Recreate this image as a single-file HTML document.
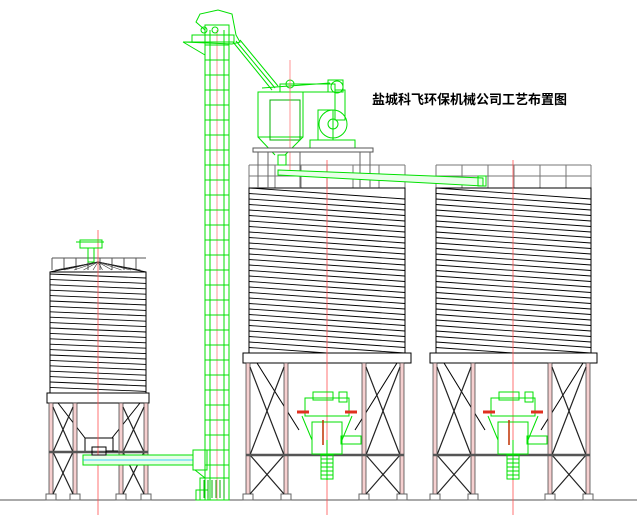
<!DOCTYPE html>
<html><head><meta charset="utf-8"><style>
html,body{margin:0;padding:0;background:#fff;width:637px;height:524px;overflow:hidden}
svg{position:absolute;left:0;top:0}
.t{position:absolute;left:372px;top:89px;font:bold 13px "Noto Sans CJK SC","WenQuanYi Zen Hei",sans-serif;letter-spacing:0px;color:#000;white-space:nowrap}
</style></head><body>
<svg id="s" width="637" height="524" viewBox="0 0 637 524" xmlns="http://www.w3.org/2000/svg">
<line x1="0" y1="500" x2="637" y2="500" stroke="#555" stroke-width="1"/>
<g id="g"></g>
</svg>
<div class="t">盐城科飞环保机械公司工艺布置图</div>
<script>
var g=document.getElementById('g'),h='';
function L(a,b,c,d,col,w){h+='<line x1="'+a+'" y1="'+b+'" x2="'+c+'" y2="'+d+'" stroke="'+(col||'#000')+'" stroke-width="'+(w||1)+'"/>';}
function R(x,y,w,hh,col,f,sw){h+='<rect x="'+x+'" y="'+y+'" width="'+w+'" height="'+hh+'" fill="'+(f||'none')+'" stroke="'+(col||'#000')+'" stroke-width="'+(sw||1)+'"/>';}
function C(x,y,r,col){h+='<circle cx="'+x+'" cy="'+y+'" r="'+r+'" fill="none" stroke="'+col+'"/>';}
var G='#00e000',G2='#00b000',RD='#ff5050',PK='#f6d0d0';
function legs(xs,y0,y1,beam){
 xs.forEach(function(x){R(x,y0,4,y1-y0,'#333',PK,0.7);R(x-3,y1-4,10,6,'#666','#fff');});
 [[0,1],[2,3]].forEach(function(p){var a=xs[p[0]]+4,b=xs[p[1]];
  L(a,y0+4,b,beam,'#222',1.2);L(b,y0+4,a,beam,'#222',1.2);
  L(a,beam,b,y1-4,'#222',1.2);L(b,beam,a,y1-4,'#222',1.2);});
 L(xs[0],beam,xs[3]+4,beam,'#555',2.5);
}
function bigSilo(x0,x1,cx){
 L(x0,165,x1,165,'#777');L(x0,176,x1,176,'#777');
 for(var x=x0;x<=x1;x+=26)L(x,165,x,188,'#777');
 L(x1,165,x1,188,'#777');
 R(x0,188,x1-x0,165,'#000');
 for(var i=0;i<30;i++){var y=188+i*5.5;L(x0,y,x1,y+11,'#000',0.9);}
 R(x0-6,353,x1-x0+12,10,'#000','#fff');
 L(x0+8,363,cx-28,430);L(x1-8,363,cx+28,430);
 legs([x0-3,x0+35,x1-43,x1-5],363,498,455);
 L(cx,160,cx,515,RD,0.8);
 R(cx-22,398,44,18,G);R(cx-14,392,20,8,G);R(cx+12,392,8,10,G);
 L(cx-30,412,cx-18,412,'#e03020',3);L(cx+18,412,cx+30,412,'#e03020',3);
 L(cx-25,416,cx-15,440,G);L(cx+25,416,cx+15,440,G);
 R(cx-15,422,30,32,G);L(cx-4,420,cx-4,445,'#c03000',1.5);
 R(cx+14,436,20,8,G);
 for(var j=0;j<6;j++)R(cx-6,455+j*4,12,4,G);
 L(cx,440,cx,480,G);
}
bigSilo(249,405,327);bigSilo(436,591,513);
for(var x=52;x<=146;x+=12)L(x,258,x,270,'#555');L(52,258,146,258,'#555');
L(50,272,98,262);L(146,272,98,262);
for(var k=0;k<10;k++){L(98,262,55+k*9.5,270,'#333',0.6);}
R(50,272,96,121,'#000');
for(var i=0;i<22;i++){var y=274+i*5.4;L(50,y,146,y+4,'#000',0.9);}
R(47,393,102,10,'#000','#fff');
L(58,403,85,438);L(140,403,112,438);R(85,438,28,14,'#000');
legs([49,73,119,144],403,498,452);
L(98,230,98,515,RD,0.8);
R(80,240,22,8,G);R(88,248,6,14,G);L(76,242,104,242,G);
R(83,455,110,10,G,'#e8ffe8');L(83,460,193,460,'#00c0ff',0.8);
R(92,447,14,8,'#000');L(106,451,118,451,'#000');
R(193,450,14,20,G);L(195,470,205,478,G);
R(205,25,24,475,G);L(210,30,210,500,G);L(224,30,224,500,G);L(217,30,217,500,RD,0.6);
for(var y=45;y<480;y+=15)L(205,y,229,y,G);
R(200,478,29,22,G);R(196,490,12,10,G);
for(var x=204;x<226;x+=4)L(x,480,x,498,G2);
h+='<polygon points="183,42 205,42 205,30 196,22 200,14 218,10 232,14 236,35 240,42 232,44" fill="none" stroke="'+G+'"/>';
R(192,35,42,7,G);C(204,30,3,G);C(215,30,3,G);
L(183,42,205,55,G);
L(233,42,272,90,G);L(240,40,278,86,G);L(236,41,275,88,G);
L(262,88,330,83,G);R(280,84,55,8,G);C(337,87,6,G);
R(328,80,15,12,G);R(335,90,10,30,G);
R(258,92,45,45,G);R(270,100,30,40,G2);L(258,137,275,155,G);L(303,137,285,155,G);
R(278,155,8,10,G);C(290,84,4,G);L(290,60,290,175,RD,0.6);
C(333,124,14,G);C(333,124,5,G);R(318,110,15,30,G);R(310,140,45,8,G);
R(253,148,120,4,'#555','#fff');
[258,268,300,360,370].forEach(function(x){L(x,152,x,188,'#666');});
h+='<polygon points="278,170 483,178 483,186 278,175" fill="#e8ffe8" stroke="'+G+'"/>';
R(478,176,8,10,G);
g.innerHTML=h;
</script>
</body></html>
